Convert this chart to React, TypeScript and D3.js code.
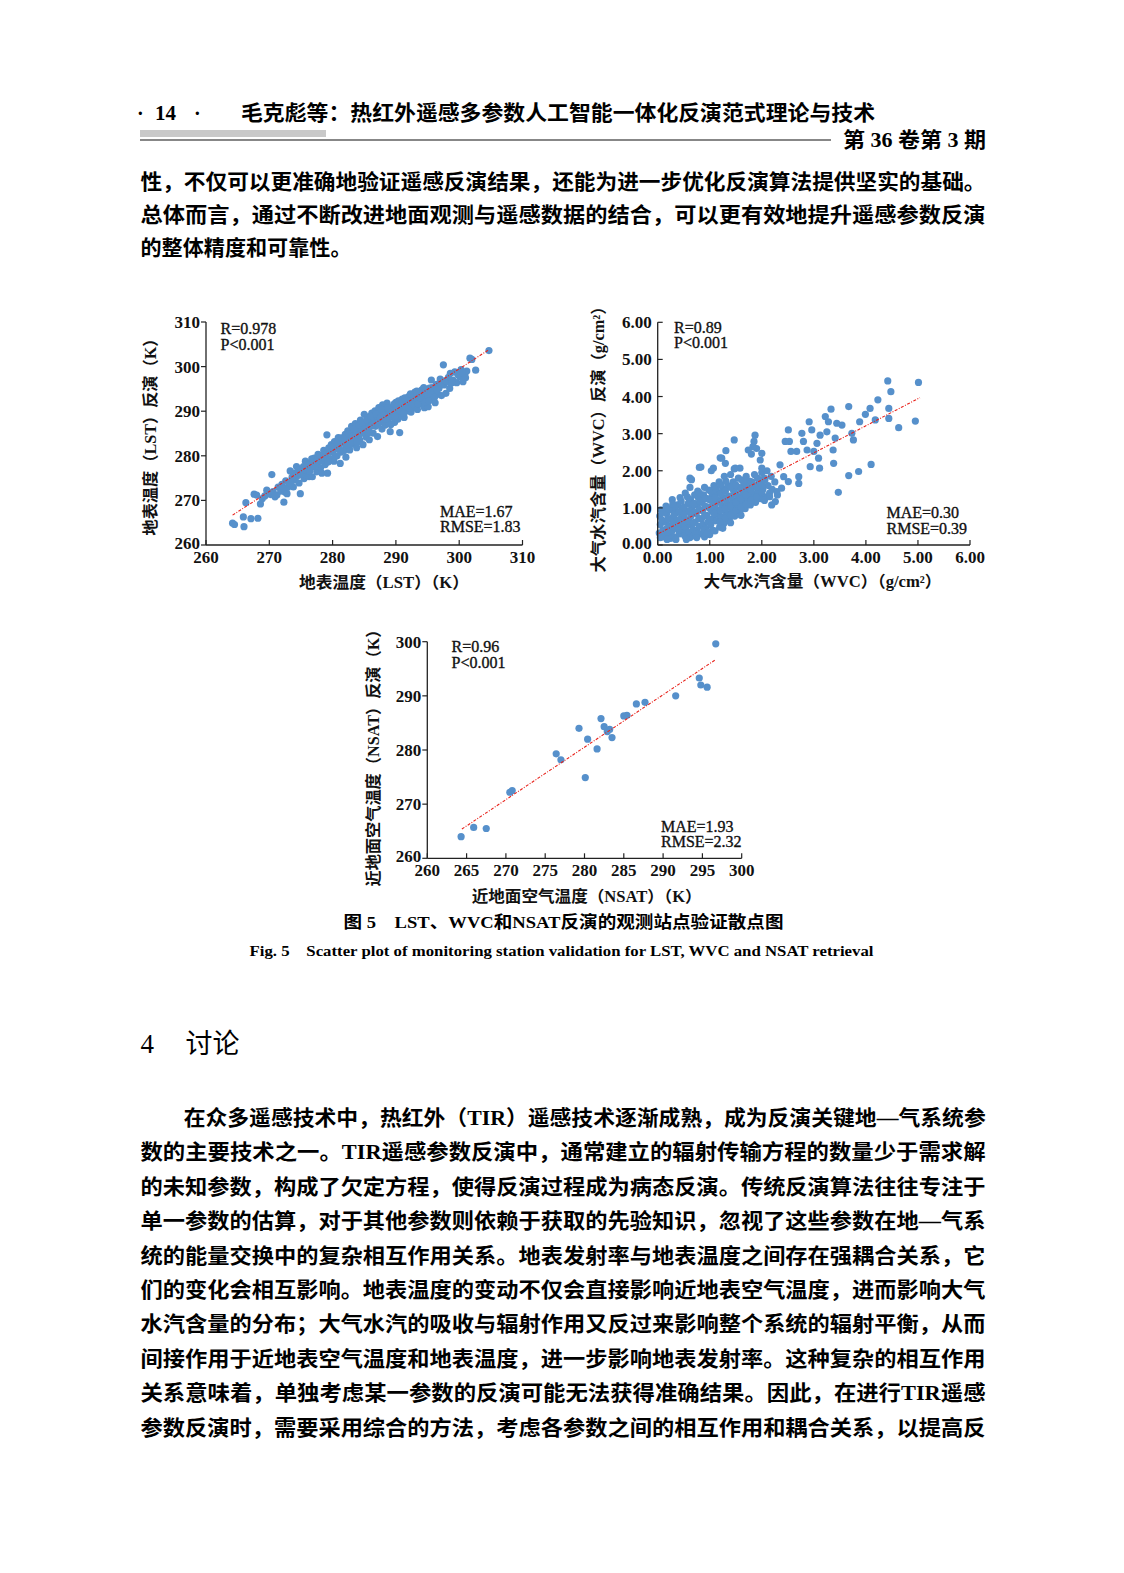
import React from 'react';
import * as d3 from 'd3';

// ---- data ----
const lstTicks = [260, 270, 280, 290, 300, 310];
const wvcTicks = [0, 1, 2, 3, 4, 5, 6];
const nsatXTicks = [260, 265, 270, 275, 280, 285, 290, 295, 300];
const nsatYTicks = [260, 270, 280, 290, 300];

const lstPoints: [number, number][] = [
  [264.2,264.9],[264.5,264.6],[266.0,264.1],[265.9,266.3],[267.1,265.9],[268.2,266.0],[266.3,269.5],[267.6,271.4],[268.0,271.2],[268.6,269.2],
  [268.9,270.4],[269.3,271.0],[269.6,272.3],[270.2,271.3],[270.4,275.8],[270.6,272.0],[270.9,270.8],[271.2,271.2],[271.4,273.0],[271.8,272.1],
  [272.0,273.6],[272.3,269.6],[272.5,271.8],[272.6,274.4],[272.9,272.9],[273.2,274.0],[273.3,276.6],[273.6,275.2],[273.8,273.0],[273.9,276.1],
  [274.1,274.6],[274.3,277.6],[274.5,275.6],[274.7,273.9],[274.9,271.5],[275.0,277.0],[275.2,276.3],[275.4,277.6],[275.5,274.9],[275.7,278.8],
  [275.9,276.1],[276.1,277.4],[276.3,275.3],[276.5,278.4],[276.8,275.3],[276.9,277.5],
  [277.1,279.5],[277.3,278.3],[277.5,276.4],[277.7,280.3],[277.9,278.7],[278.1,277.3],[278.3,276.1],[278.4,279.9],[278.6,281.2],[278.8,278.0],
  [279.0,280.5],[279.1,284.7],[279.2,276.1],[279.4,281.8],[279.6,279.4],[279.8,282.5],[280.0,280.9],[280.2,278.8],[280.3,283.2],[280.5,281.6],
  [280.7,280.0],[280.9,284.1],[281.0,282.4],[281.2,278.3],[281.3,280.8],[281.5,283.3],[281.7,282.8],[281.8,281.2],[282.0,284.8],
  [282.1,279.7],[282.3,283.6],[282.4,285.6],[282.6,281.9],[282.7,281.3],[282.9,284.3],[283.0,286.6],[283.2,282.6],[283.3,285.0],[283.5,283.4],
  [283.6,287.2],[283.8,281.8],[284.0,285.8],[284.1,284.1],[284.3,283.5],[284.4,288.0],[284.6,286.4],[284.8,282.5],[284.9,285.2],[285.0,289.3],
  [285.2,287.2],[285.3,284.2],[285.5,286.0],[285.6,288.7],[285.8,283.6],[285.9,286.5],[286.1,287.7],[286.2,289.6],[286.4,285.1],[286.5,288.4],
  [286.7,290.1],[286.8,286.6],
  [287.0,288.9],[287.1,284.3],[287.3,290.8],[287.4,287.5],[287.6,289.4],[287.8,286.0],[287.9,291.4],[288.0,288.0],[288.2,290.3],[288.3,286.9],
  [288.5,289.1],[288.6,291.8],[288.8,287.6],[289.0,290.5],[289.1,285.4],[289.3,288.7],[289.5,291.0],[289.6,289.6],[289.8,287.5],[290.0,292.0],
  [290.2,290.2],[290.3,288.2],[290.6,285.2],[290.6,291.3],[290.8,289.0],[291.0,292.7],[291.1,290.4],[291.3,288.6],[291.5,291.7],[291.7,290.0],
  [291.9,290.3],
  [292.0,293.3],[292.2,291.4],[292.4,289.8],[292.5,292.9],[292.7,292.5],[292.9,291.0],[293.0,294.3],[293.2,292.0],[293.4,290.4],[293.6,293.0],
  [293.8,293.6],[293.9,291.6],[294.1,294.8],[294.3,292.5],[294.5,290.8],[294.7,293.8],[294.9,292.2],[295.1,291.0],[295.3,295.2],[295.4,293.3],
  [295.6,297.0],[295.8,292.6],[296.0,294.4],[296.2,291.9],[296.4,296.0],[296.6,293.8],
  [296.8,295.1],[297.0,297.2],[297.2,293.5],[297.5,300.4],[297.6,295.9],[297.9,294.0],[298.1,296.6],[298.5,295.1],[298.6,298.5],[299.0,297.0],
  [299.3,298.8],[299.6,296.4],[300.1,297.7],[300.3,299.3],[300.6,296.6],[300.9,298.3],[301.2,299.0],[301.7,301.9],[302.0,301.6],[302.6,299.2],
  [304.7,303.6],
  // filling the band
  [272.2,272.6],[272.8,271.5],[273.4,273.8],[274.0,275.9],[274.6,276.8],[275.1,275.8],[275.6,276.9],[276.0,278.0],[276.4,276.6],[276.7,279.3],
  [277.2,277.7],[277.6,279.1],[278.0,280.0],[278.2,278.9],[278.7,279.5],[279.3,278.6],[279.7,280.9],[280.1,282.0],[280.4,279.9],[280.8,282.9],
  [281.1,281.4],[281.4,284.0],[281.9,283.9],[282.2,282.4],[282.5,284.9],[282.8,283.0],[283.1,284.4],[283.4,286.0],[283.7,284.7],[283.9,283.0],
  [284.2,286.9],[284.5,285.0],[284.7,287.3],[285.1,286.1],[285.4,288.1],[285.7,285.2],[286.0,288.9],[286.3,286.9],[286.6,287.3],[286.9,289.4],
  [287.2,287.0],[287.5,288.6],[287.7,290.4],[288.1,289.1],[288.4,288.2],[288.7,290.8],[288.9,289.3],[289.2,287.0],[289.4,290.0],[289.7,291.6],
  [289.9,289.0],[290.1,291.0],[290.4,292.3],[290.7,290.0],[290.9,291.9],[291.2,289.5],[291.4,293.0],[291.6,291.0],[291.8,292.4],[292.1,290.6],
  [292.3,293.9],[292.6,291.6],[292.8,293.7],[293.1,293.1],[293.3,294.5],[293.5,291.6],[293.7,294.2],[294.0,292.9],[294.2,293.9],[294.4,295.3],
  [294.6,292.0],[294.8,294.7],[295.0,293.7],[295.2,292.3],[295.5,294.0],[295.7,295.3],[296.1,293.1],[296.5,295.0],[297.1,296.0],[297.8,296.8],
  [298.3,297.6],[298.8,296.3],[299.8,298.2],[300.5,298.6],[301.0,297.5],
];

const wvcPoints: [number, number][] = [
  // dense cloud
  [0.03,0.32],[0.05,0.55],[0.04,0.78],[0.06,0.95],[0.10,0.40],
  [0.14,0.25],[0.15,0.62],[0.17,0.85],[0.16,1.05],[0.18,0.45],
  [0.22,0.30],[0.24,0.52],[0.26,0.72],[0.25,0.95],[0.28,1.22],[0.27,0.38],[0.25,0.18],
  [0.32,0.22],[0.34,0.46],[0.36,0.64],[0.35,0.86],[0.38,1.08],[0.33,1.02],
  [0.42,0.30],[0.44,0.55],[0.46,0.76],[0.47,0.98],[0.45,1.18],[0.49,0.40],
  [0.52,0.25],[0.54,0.48],[0.56,0.68],[0.55,0.90],[0.58,1.10],[0.57,1.30],[0.60,0.35],
  [0.62,0.55],[0.64,0.78],[0.66,1.00],[0.63,1.22],[0.68,0.42],[0.65,1.76],[0.62,1.55],[0.70,0.25],[0.62,0.20],
  [0.72,0.62],[0.74,0.85],[0.76,1.08],[0.78,1.28],[0.75,0.38],[0.77,1.45],[0.80,0.50],
  [0.82,0.30],[0.84,0.70],[0.86,0.92],[0.85,1.15],[0.88,1.35],[0.87,0.55],[0.83,2.10],[0.90,1.55],[0.90,0.22],
  [0.92,0.45],[0.94,0.80],[0.96,1.02],[0.95,1.25],[0.98,1.48],[0.97,0.62],[1.00,0.28],
  [1.02,0.55],[1.04,0.90],[1.06,1.12],[1.05,1.35],[1.08,1.60],[1.07,0.72],[1.03,2.00],[1.10,0.38],
  [1.12,0.65],[1.14,0.95],[1.16,1.20],[1.15,1.42],[1.18,1.70],[1.17,0.82],[1.20,2.35],[1.19,0.48],
  [1.22,0.75],[1.24,1.05],[1.26,1.28],[1.25,1.52],[1.28,1.85],[1.27,0.58],[1.30,2.20],
  [1.32,0.85],[1.34,1.10],[1.36,1.32],[1.35,1.60],[1.38,0.65],[1.40,1.90],
  [1.42,0.95],[1.44,1.20],[1.46,1.45],[1.45,1.70],[1.48,0.78],[1.47,2.05],
  [1.52,1.05],[1.54,1.30],[1.56,1.55],[1.58,0.90],[1.55,1.80],
  [1.62,1.15],[1.64,1.40],[1.66,1.62],[1.68,0.98],[1.70,1.85],
  [1.72,1.25],[1.74,1.50],[1.78,1.08],[1.76,1.72],[1.80,2.45],
  [1.82,1.35],[1.85,1.60],[1.88,1.15],[1.86,1.90],[1.90,2.60],
  [1.92,1.42],[1.95,1.70],[1.98,1.25],[2.00,1.95],
  [2.02,1.50],[2.05,1.80],[2.08,1.30],[2.10,2.00],
  [2.12,1.60],[2.15,1.40],[2.18,1.85],
  [0.08,0.68],[0.12,0.88],[0.09,0.22],[0.20,0.70],[0.21,0.98],[0.19,0.35],[0.30,0.60],[0.31,0.80],[0.29,1.10],[0.40,0.40],
  [0.40,0.68],[0.41,0.90],[0.43,1.28],[0.50,0.60],[0.51,0.82],[0.50,1.02],[0.53,1.40],[0.60,0.65],[0.61,0.92],[0.60,1.15],
  [0.69,0.60],[0.70,0.88],[0.70,1.12],[0.71,1.35],[0.73,0.30],[0.79,0.72],[0.80,0.96],[0.81,1.18],[0.80,1.40],[0.89,0.40],
  [0.90,0.78],[0.91,1.05],[0.92,1.25],[1.00,0.70],[1.01,0.98],[1.00,1.22],[1.02,1.45],[1.09,0.85],[1.10,1.05],[1.11,1.28],
  [1.12,1.52],[1.20,0.62],[1.21,0.92],[1.20,1.15],[1.22,1.38],[1.21,1.62],[1.30,0.72],[1.30,0.98],[1.31,1.22],[1.30,1.45],
  [1.31,1.72],[1.40,0.80],[1.40,1.05],[1.41,1.30],[1.40,1.55],[1.50,0.92],[1.50,1.15],[1.51,1.38],[1.50,1.62],[1.60,1.02],
  [1.60,1.25],[1.61,1.50],[1.62,1.75],[1.70,1.10],[1.70,1.35],[1.71,1.60],[1.80,1.20],[1.80,1.45],[1.81,1.70],[1.90,1.30],
  [1.90,1.55],[1.92,1.80],[2.00,1.40],[2.00,1.62],[2.05,1.20],[2.20,1.50],[2.25,1.70],[2.30,1.35],[1.60,0.80],[1.40,0.60],
  [1.25,0.45],[1.05,0.40],[0.95,0.32],[0.75,0.20],[0.55,0.15],[0.35,0.15],[0.18,0.15],[0.05,0.20],
  // sparse upper part
  [5.01,4.38],[4.42,4.42],[4.48,4.13],[4.44,3.68],[4.44,3.41],[4.63,3.16],[4.95,3.34],[4.23,3.91],[4.18,3.37],[4.08,3.68],
  [3.99,3.52],[3.88,3.32],[3.67,3.73],[3.73,3.01],[3.76,2.83],[4.10,2.17],[3.86,1.98],[3.67,1.87],[3.47,1.42],[3.33,3.66],
  [3.22,3.46],[3.28,3.32],[3.44,3.28],[3.54,3.23],[3.41,2.88],[3.25,3.05],[3.37,2.56],[3.38,2.20],[3.12,2.96],[3.06,2.74],
  [3.00,2.52],[3.09,2.34],[3.11,2.07],[2.93,2.11],[2.91,3.32],[2.96,3.10],[2.77,3.01],[2.80,2.79],[2.87,2.56],[2.67,2.52],
  [2.51,3.10],[2.53,2.79],[2.45,2.79],[2.56,2.52],[2.71,1.84],[2.71,1.66],[2.51,1.71],[2.42,1.84],[2.35,2.16],[2.38,1.53],
  [2.29,1.44],[2.19,1.08],[2.26,1.17],[2.15,1.30],[2.00,1.44],[2.06,1.75],[1.87,2.96],[1.85,2.79],[1.83,2.65],[1.74,2.56],
  [2.00,2.47],[1.97,2.29],[2.00,2.07],[1.47,2.83],[1.31,2.54],[1.23,2.34],[1.07,2.07],[0.80,2.09],[0.62,1.80],[1.58,2.07],
  [1.65,1.71],[1.49,2.07],
];

const nsatPoints: [number, number][] = [
  [264.3,264.0],[265.9,265.7],[267.5,265.5],[270.5,272.2],[270.8,272.5],[276.4,279.3],[277.0,278.2],[279.3,284.0],[280.4,282.0],[280.1,274.9],
  [281.6,280.2],[282.1,285.8],[282.5,284.3],[282.9,283.4],[283.2,283.8],[283.5,282.3],[285.0,286.3],[285.4,286.4],[286.6,288.5],[287.7,288.8],
  [291.6,290.0],[294.6,293.3],[294.8,292.0],[295.6,291.6],[296.7,299.6],
];

const lstFit: [number, number][] = [[264.2, 266.7], [304.6, 303.7]];
const wvcFit: [number, number][] = [[0.02, 0.31], [5.04, 3.97]];
const nsatFit: [number, number][] = [[264.4, 265.4], [296.6, 296.6]];

const lstStats = ['R=0.978', 'P<0.001', 'MAE=1.67', 'RMSE=1.83'];
const wvcStats = ['R=0.89', 'P<0.001', 'MAE=0.30', 'RMSE=0.39'];
const nsatStats = ['R=0.96', 'P<0.001', 'MAE=1.93', 'RMSE=2.32'];

const topLines = [
  '性，不仅可以更准确地验证遥感反演结果，还能为进一步优化反演算法提供坚实的基础。',
  '总体而言，通过不断改进地面观测与遥感数据的结合，可以更有效地提升遥感参数反演',
  '的整体精度和可靠性。',
];

const bodyLines = [
  '在众多遥感技术中，热红外（TIR）遥感技术逐渐成熟，成为反演关键地—气系统参',
  '数的主要技术之一。TIR遥感参数反演中，通常建立的辐射传输方程的数量少于需求解',
  '的未知参数，构成了欠定方程，使得反演过程成为病态反演。传统反演算法往往专注于',
  '单一参数的估算，对于其他参数则依赖于获取的先验知识，忽视了这些参数在地—气系',
  '统的能量交换中的复杂相互作用关系。地表发射率与地表温度之间存在强耦合关系，它',
  '们的变化会相互影响。地表温度的变动不仅会直接影响近地表空气温度，进而影响大气',
  '水汽含量的分布；大气水汽的吸收与辐射作用又反过来影响整个系统的辐射平衡，从而',
  '间接作用于近地表空气温度和地表温度，进一步影响地表发射率。这种复杂的相互作用',
  '关系意味着，单独考虑某一参数的反演可能无法获得准确结果。因此，在进行TIR遥感',
  '参数反演时，需要采用综合的方法，考虑各参数之间的相互作用和耦合关系，以提高反',
];

const FONT = "'Liberation Serif', 'Noto Sans CJK SC', serif";
const DOT = '#5690cb';

type PanelProps = {
  points: [number, number][];
  fit: [number, number][];
  xDomain: [number, number];
  yDomain: [number, number];
  xRange: [number, number];
  yRange: [number, number];
  xTicks: number[];
  yTicks: number[];
  fmt: (v: number) => string;
  yTickOut: boolean;
  stats: string[];
  statL: [number, number];
  statR: [number, number];
  xLabel: string;
  xLabelPos: [number, number, number];
  yLabel: string;
  yLabelPos: [number, number, number];
};

const Panel = (p: PanelProps) => {
  const x = d3.scaleLinear().domain(p.xDomain).range(p.xRange);
  const y = d3.scaleLinear().domain(p.yDomain).range(p.yRange);
  const x0 = p.xRange[0];
  const y0 = p.yRange[0];
  const fitLine = d3.line<[number, number]>().x((d) => x(d[0])).y((d) => y(d[1]));
  const tl = 5;
  const statStyle = { fontSize: 16, fill: '#111', stroke: '#111', strokeWidth: 0.35 };
  return (
    <g fontFamily={FONT}>
      {p.points.map((d, i) => (
        <circle key={i} cx={x(d[0])} cy={y(d[1])} r={3.6} fill={DOT} />
      ))}
      <path d={fitLine(p.fit) || ''} fill="none" stroke="#e8231c" strokeWidth={1.1} strokeDasharray="3 1.5 1 1.5" />
      <line x1={x0} x2={x0} y1={y0} y2={p.yRange[1]} stroke="#222" strokeWidth={1.3} />
      <line x1={x0} x2={p.xRange[1]} y1={y0} y2={y0} stroke="#222" strokeWidth={1.3} />
      {p.yTicks.map((t) => (
        <g key={'y' + t}>
          <line x1={x0} x2={p.yTickOut ? x0 - tl : x0 + tl} y1={y(t)} y2={y(t)} stroke="#222" strokeWidth={1.2} />
          <text x={x0 - 6} y={y(t) + (t === p.yTicks[0] ? 4 : 6)} textAnchor="end" fontSize={17} fontWeight="bold" fill="#111">
            {p.fmt(t)}
          </text>
        </g>
      ))}
      {p.xTicks.map((t) => (
        <g key={'x' + t}>
          <line x1={x(t)} x2={x(t)} y1={y0} y2={y0 - tl} stroke="#222" strokeWidth={1.2} />
          <text x={x(t)} y={y0 + 18} textAnchor="middle" fontSize={17} fontWeight="bold" fill="#111">
            {p.fmt(t)}
          </text>
        </g>
      ))}
      <text x={p.statL[0]} y={p.statL[1]} {...statStyle}>{p.stats[0]}</text>
      <text x={p.statL[0]} y={p.statL[1] + 15.5} {...statStyle}>{p.stats[1]}</text>
      <text x={p.statR[0]} y={p.statR[1]} {...statStyle}>{p.stats[2]}</text>
      <text x={p.statR[0]} y={p.statR[1] + 15.5} {...statStyle}>{p.stats[3]}</text>
      <text x={p.xLabelPos[0]} y={p.xLabelPos[1]} textAnchor="middle" fontSize={16} fontWeight="bold" fill="#111"
        textLength={p.xLabelPos[2]} lengthAdjust="spacingAndGlyphs">
        {p.xLabel}
      </text>
      <text transform={`translate(${p.yLabelPos[0]},${p.yLabelPos[1]}) rotate(-90)`} textAnchor="middle" fontSize={16}
        fontWeight="bold" fill="#111" textLength={p.yLabelPos[2]} lengthAdjust="spacingAndGlyphs">
        {p.yLabel}
      </text>
    </g>
  );
};

const fmtInt = (v: number) => String(v);
const fmt2 = d3.format('.2f');

export default function App() {
  return (
    <svg width={1124} height={1573} style={{ position: 'absolute', left: 0, top: 0, background: '#fff' }}
      fontFamily={FONT}>
      <rect width={1124} height={1573} fill="#fff" />
      {/* running head */}
      <text x={137} y={120} fontSize={20} fontWeight="bold">·</text>
      <text x={155} y={120} fontSize={21} fontWeight="bold">14</text>
      <text x={194} y={120} fontSize={20} fontWeight="bold">·</text>
      <text x={241} y={120} fontSize={21} fontWeight="bold" textLength={634} lengthAdjust="spacingAndGlyphs">
        毛克彪等：热红外遥感多参数人工智能一体化反演范式理论与技术
      </text>
      <rect x={140} y={130} width={186} height={7} fill="#c9c9c9" />
      <line x1={140} x2={831} y1={140} y2={140} stroke="#111" strokeWidth={1.2} />
      <text x={843} y={147} fontSize={21} fontWeight="bold" textLength={143} lengthAdjust="spacingAndGlyphs">
        第 36 卷第 3 期
      </text>

      {topLines.map((s, i) => (
        <text key={i} x={140.5} y={188.5 + i * 33.2} fontSize={21} fontWeight="bold"
          textLength={i < 2 ? 845 : 211} lengthAdjust="spacingAndGlyphs">
          {s}
        </text>
      ))}

      <Panel points={lstPoints} fit={lstFit} xDomain={[260, 310]} yDomain={[260, 310]} xRange={[206, 522.5]}
        yRange={[545, 322]} xTicks={lstTicks} yTicks={lstTicks} fmt={fmtInt} yTickOut={true} stats={lstStats}
        statL={[220.5, 334]} statR={[440, 516.5]} xLabel="地表温度（LST）（K）" xLabelPos={[384, 588, 170]}
        yLabel="地表温度（LST）反演（K）" yLabelPos={[156, 433, 205]} />

      <Panel points={wvcPoints} fit={wvcFit} xDomain={[0, 6]} yDomain={[0, 6]} xRange={[657.7, 970]}
        yRange={[545, 322.3]} xTicks={wvcTicks} yTicks={wvcTicks} fmt={fmt2} yTickOut={false} stats={wvcStats}
        statL={[674, 332.5]} statR={[886.5, 518]} xLabel="大气水汽含量（WVC）（g/cm²）" xLabelPos={[822.5, 587, 238]}
        yLabel="大气水汽含量（WVC）反演（g/cm²）" yLabelPos={[604, 435.5, 274]} />

      <Panel points={nsatPoints} fit={nsatFit} xDomain={[260, 300]} yDomain={[260, 300]} xRange={[427.3, 741.7]}
        yRange={[858.3, 641.7]} xTicks={nsatXTicks} yTicks={nsatYTicks} fmt={fmtInt} yTickOut={true} stats={nsatStats}
        statL={[451.5, 652.3]} statR={[661, 831.5]} xLabel="近地面空气温度（NSAT）（K）" xLabelPos={[586.7, 901.5, 230]}
        yLabel="近地面空气温度（NSAT）反演（K）" yLabelPos={[379, 754, 265]} />

      {/* captions */}
      <text x={563.5} y={927.5} textAnchor="middle" fontSize={17} fontWeight="bold" textLength={440}
        lengthAdjust="spacingAndGlyphs">
        图 5　LST、WVC和NSAT反演的观测站点验证散点图
      </text>
      <text x={561.5} y={955.5} textAnchor="middle" fontSize={15} fontWeight="bold" textLength={624}
        lengthAdjust="spacingAndGlyphs">
        Fig. 5　Scatter plot of monitoring station validation for LST, WVC and NSAT retrieval
      </text>

      {/* section 4 */}
      <text x={140.5} y={1053} fontSize={27}>4</text>
      <text x={185.5} y={1053} fontSize={27} fontFamily="'Noto Sans CJK SC', sans-serif">讨论</text>

      {bodyLines.map((s, i) => (
        <text key={i} x={i === 0 ? 183.7 : 140.5} y={1125 + i * 34.4} fontSize={21} fontWeight="bold"
          textLength={i === 0 ? 802 : 845} lengthAdjust="spacingAndGlyphs">
          {s}
        </text>
      ))}
    </svg>
  );
}
